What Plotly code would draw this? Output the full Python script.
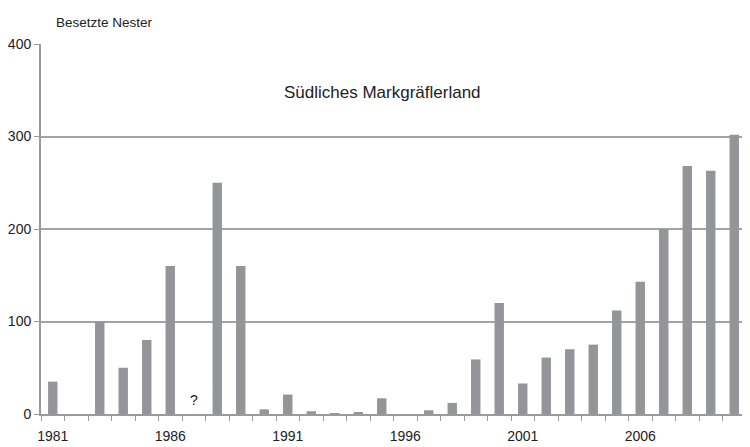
import plotly.graph_objects as go

years = list(range(1981, 2011))
nests = [35, 0, 100, 50, 80, 160, 0, 250, 160, 5,
         21, 3, 1, 2, 17, 0, 4, 12, 59, 120,
         33, 61, 70, 75, 112, 143, 200, 268, 263, 302]
x_labels = [1981, 1986, 1991, 1996, 2001, 2006]
y_ticks = [0, 100, 200, 300, 400]

grey = "#9a9a9c"
font = "Liberation Sans, Arial, sans-serif"

fig = go.Figure(
    go.Bar(
        x=years,
        y=nests,
        marker=dict(color="#949599", line=dict(width=0)),
        width=0.4,
    )
)

fig.add_annotation(
    x=1987, y=0, yshift=14, text="?", showarrow=False,
    font=dict(size=14, color="#222", family=font),
)
fig.add_annotation(
    xref="paper", yref="paper", x=0.485, y=0.87, yanchor="middle",
    text="Südliches Markgräflerland",
    showarrow=False, font=dict(size=17, color="#222", family=font),
)
fig.add_annotation(
    xref="paper", yref="paper", x=0.0, y=1.0, yshift=22, xshift=13,
    xanchor="left", yanchor="middle", text="Besetzte Nester", showarrow=False,
    font=dict(size=13.5, color="#222", family=font),
)

# page has an 8px body margin, so the figure is sized to fit the window
fig.update_layout(
    width=742,
    height=439,
    margin=dict(l=33, r=4, t=36, b=33),
    plot_bgcolor="white",
    paper_bgcolor="white",
    showlegend=False,
    font=dict(family=font, size=14, color="#222"),
    xaxis=dict(
        range=[1980.5, 2010.5],
        tickvals=x_labels,
        ticks="outside",
        ticklen=8,
        tickcolor="rgba(0,0,0,0)",
        showgrid=False,
        showline=True,
        linecolor=grey,
        linewidth=2,
        zeroline=False,
        automargin=False,
        minor=dict(ticks="outside", tick0=1980.5, dtick=1, ticklen=5,
                   tickcolor=grey, tickwidth=1, showgrid=False),
    ),
    yaxis=dict(
        range=[0, 400],
        tickvals=y_ticks,
        ticks="outside",
        ticklen=5,
        tickcolor=grey,
        showgrid=True,
        gridcolor="#a3a3a5",
        gridwidth=2,
        showline=True,
        linecolor=grey,
        linewidth=2,
        zeroline=False,
        automargin=False,
    ),
)

fig.write_html("out.html")
